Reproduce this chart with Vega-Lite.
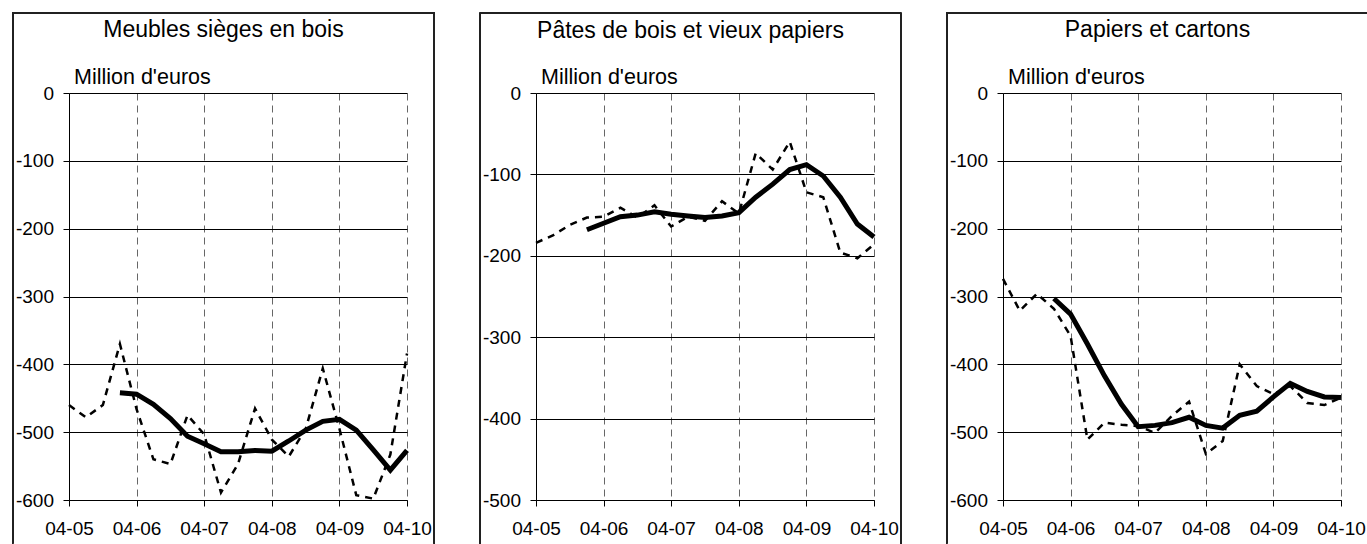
{
  "$schema": "https://vega.github.io/schema/vega-lite/v6.json",
  "background": "white",
  "padding": {"left": 12, "top": 12, "right": 0, "bottom": 0},
  "spacing": 44,
  "config": {
    "font": "Liberation Sans",
    "locale": {"number": {"decimal": ".", "thousands": ",", "grouping": [3], "currency": ["$", ""], "minus": "-"}},
    "view": {"stroke": null},
    "axis": {"labelFont": "Liberation Sans", "labelColor": "black", "labelFontSize": 19, "domainColor": "black", "tickColor": "black", "tickSize": 6, "titleFont": "Liberation Sans", "titleFontWeight": "normal", "titleColor": "black"},
    "axisX": {"labelExpr": "utcFormat(datum.value, '%m-%y')", "labelPadding": 13, "labelFlush": false, "labelOverlap": false, "grid": true, "gridDash": [7, 5], "gridColor": "#666", "title": null},
    "title": {"font": "Liberation Sans", "fontWeight": "normal", "fontSize": 23, "color": "black", "anchor": "middle", "frame": "bounds", "offset": -30, "baseline": "alphabetic"}
  },
  "datasets": {
    "meubles": [
      {"date": "2005-04-01", "brut": -460},
      {"date": "2005-07-01", "brut": -478},
      {"date": "2005-10-01", "brut": -460},
      {"date": "2006-01-01", "brut": -370, "moyenne": -442},
      {"date": "2006-04-01", "brut": -466, "moyenne": -444},
      {"date": "2006-07-01", "brut": -540, "moyenne": -459},
      {"date": "2006-10-01", "brut": -547, "moyenne": -480},
      {"date": "2007-01-01", "brut": -475, "moyenne": -506},
      {"date": "2007-04-01", "brut": -503, "moyenne": -517},
      {"date": "2007-07-01", "brut": -589, "moyenne": -529},
      {"date": "2007-10-01", "brut": -547, "moyenne": -529},
      {"date": "2008-01-01", "brut": -465, "moyenne": -527},
      {"date": "2008-04-01", "brut": -511, "moyenne": -528},
      {"date": "2008-07-01", "brut": -536, "moyenne": -513},
      {"date": "2008-10-01", "brut": -495, "moyenne": -497},
      {"date": "2009-01-01", "brut": -406, "moyenne": -484},
      {"date": "2009-04-01", "brut": -495, "moyenne": -481},
      {"date": "2009-07-01", "brut": -593, "moyenne": -497},
      {"date": "2009-10-01", "brut": -598, "moyenne": -526},
      {"date": "2010-01-01", "brut": -533, "moyenne": -556},
      {"date": "2010-04-01", "brut": -384, "moyenne": -527}
    ],
    "pates": [
      {"date": "2005-04-01", "brut": -184},
      {"date": "2005-07-01", "brut": -175},
      {"date": "2005-10-01", "brut": -162},
      {"date": "2006-01-01", "brut": -153, "moyenne": -168},
      {"date": "2006-04-01", "brut": -152, "moyenne": -160},
      {"date": "2006-07-01", "brut": -141, "moyenne": -152},
      {"date": "2006-10-01", "brut": -153, "moyenne": -150},
      {"date": "2007-01-01", "brut": -138, "moyenne": -146},
      {"date": "2007-04-01", "brut": -164, "moyenne": -149},
      {"date": "2007-07-01", "brut": -152, "moyenne": -151},
      {"date": "2007-10-01", "brut": -157, "moyenne": -153},
      {"date": "2008-01-01", "brut": -133, "moyenne": -151},
      {"date": "2008-04-01", "brut": -148, "moyenne": -147},
      {"date": "2008-07-01", "brut": -74, "moyenne": -128},
      {"date": "2008-10-01", "brut": -94, "moyenne": -112},
      {"date": "2009-01-01", "brut": -60, "moyenne": -94},
      {"date": "2009-04-01", "brut": -122, "moyenne": -88},
      {"date": "2009-07-01", "brut": -128, "moyenne": -102},
      {"date": "2009-10-01", "brut": -196, "moyenne": -128},
      {"date": "2010-01-01", "brut": -203, "moyenne": -161},
      {"date": "2010-04-01", "brut": -186, "moyenne": -177}
    ],
    "papiers": [
      {"date": "2005-04-01", "brut": -274},
      {"date": "2005-07-01", "brut": -321},
      {"date": "2005-10-01", "brut": -296},
      {"date": "2006-01-01", "brut": -318, "moyenne": -303},
      {"date": "2006-04-01", "brut": -358, "moyenne": -326},
      {"date": "2006-07-01", "brut": -511, "moyenne": -370},
      {"date": "2006-10-01", "brut": -486, "moyenne": -417},
      {"date": "2007-01-01", "brut": -489, "moyenne": -459},
      {"date": "2007-04-01", "brut": -491, "moyenne": -492},
      {"date": "2007-07-01", "brut": -501, "moyenne": -490},
      {"date": "2007-10-01", "brut": -476, "moyenne": -486},
      {"date": "2008-01-01", "brut": -455, "moyenne": -478},
      {"date": "2008-04-01", "brut": -532, "moyenne": -490},
      {"date": "2008-07-01", "brut": -513, "moyenne": -494},
      {"date": "2008-10-01", "brut": -400, "moyenne": -475},
      {"date": "2009-01-01", "brut": -432, "moyenne": -469},
      {"date": "2009-04-01", "brut": -444, "moyenne": -448},
      {"date": "2009-07-01", "brut": -432, "moyenne": -428},
      {"date": "2009-10-01", "brut": -457, "moyenne": -440},
      {"date": "2010-01-01", "brut": -460, "moyenne": -448},
      {"date": "2010-04-01", "brut": -449, "moyenne": -449}
    ]
  },
  "hconcat": [
    {
      "width": 338, "height": 407,
      "title": {"text": "Meubles sièges en bois"},
      "data": {"name": "meubles"},
      "layer": [
        {"mark": {"type": "rule", "color": "#222", "strokeWidth": 1},
         "encoding": {"x": {"datum": {"year": 2004, "month": 6, "date": 1, "utc": true}, "type": "temporal"}, "y": {"datum": 118}, "y2": {"datum": -664}}},
        {"mark": {"type": "rule", "color": "#222", "strokeWidth": 1},
         "encoding": {"x": {"datum": {"year": 2010, "month": 8, "date": 26, "utc": true}, "type": "temporal"}, "y": {"datum": 118}, "y2": {"datum": -664}}},
        {"mark": {"type": "rule", "color": "#222", "strokeWidth": 1},
         "encoding": {"x": {"datum": {"year": 2004, "month": 6, "date": 1, "utc": true}, "type": "temporal"}, "x2": {"datum": {"year": 2010, "month": 8, "date": 26, "utc": true}}, "y": {"datum": 118}}},
        {"mark": {"type": "line", "color": "black", "strokeWidth": 2.5, "strokeDash": [7, 6]},
         "encoding": {
           "x": {"field": "date", "type": "temporal",
                 "scale": {"type": "utc", "domain": [{"year": 2005, "month": 4, "date": 1, "utc": true}, {"year": 2010, "month": 4, "date": 1, "utc": true}], "nice": false},
                 "axis": {"title": null, "values": [{"year": 2005, "month": 4, "date": 1, "utc": true}, {"year": 2006, "month": 4, "date": 1, "utc": true}, {"year": 2007, "month": 4, "date": 1, "utc": true}, {"year": 2008, "month": 4, "date": 1, "utc": true}, {"year": 2009, "month": 4, "date": 1, "utc": true}, {"year": 2010, "month": 4, "date": 1, "utc": true}],
                          "labelExpr": "utcFormat(datum.value, '%m-%y')", "grid": true, "gridDash": [7, 5], "gridColor": "#666", "labelPadding": 13, "labelFlush": false, "labelOverlap": false}},
           "y": {"field": "brut", "type": "quantitative",
                 "scale": {"domain": [-600, 0], "nice": false, "zero": false},
                 "axis": {"values": [0, -100, -200, -300, -400, -500, -600], "format": "d", "title": "Million d'euros", "titleAngle": 0, "titleAlign": "left", "titleBaseline": "alphabetic", "titleX": 4.5, "titleY": -10, "titleFontSize": 21.5, "grid": true, "gridColor": "black", "gridWidth": 1, "labelPadding": 9.5}}
         }},
        {"transform": [{"filter": "isValid(datum.moyenne)"}],
         "mark": {"type": "line", "color": "black", "strokeWidth": 5},
         "encoding": {"x": {"field": "date", "type": "temporal"}, "y": {"field": "moyenne", "type": "quantitative"}}}
      ]
    },
    {
      "width": 338, "height": 407,
      "title": {"text": "Pâtes de bois et vieux papiers"},
      "data": {"name": "pates"},
      "layer": [
        {"mark": {"type": "rule", "color": "#222", "strokeWidth": 1},
         "encoding": {"x": {"datum": {"year": 2004, "month": 6, "date": 1, "utc": true}, "type": "temporal"}, "y": {"datum": 98}, "y2": {"datum": -554}}},
        {"mark": {"type": "rule", "color": "#222", "strokeWidth": 1},
         "encoding": {"x": {"datum": {"year": 2010, "month": 8, "date": 26, "utc": true}, "type": "temporal"}, "y": {"datum": 98}, "y2": {"datum": -554}}},
        {"mark": {"type": "rule", "color": "#222", "strokeWidth": 1},
         "encoding": {"x": {"datum": {"year": 2004, "month": 6, "date": 1, "utc": true}, "type": "temporal"}, "x2": {"datum": {"year": 2010, "month": 8, "date": 26, "utc": true}}, "y": {"datum": 98}}},
        {"mark": {"type": "line", "color": "black", "strokeWidth": 2.5, "strokeDash": [7, 6]},
         "encoding": {
           "x": {"field": "date", "type": "temporal",
                 "scale": {"type": "utc", "domain": [{"year": 2005, "month": 4, "date": 1, "utc": true}, {"year": 2010, "month": 4, "date": 1, "utc": true}], "nice": false},
                 "axis": {"title": null, "values": [{"year": 2005, "month": 4, "date": 1, "utc": true}, {"year": 2006, "month": 4, "date": 1, "utc": true}, {"year": 2007, "month": 4, "date": 1, "utc": true}, {"year": 2008, "month": 4, "date": 1, "utc": true}, {"year": 2009, "month": 4, "date": 1, "utc": true}, {"year": 2010, "month": 4, "date": 1, "utc": true}],
                          "labelExpr": "utcFormat(datum.value, '%m-%y')", "grid": true, "gridDash": [7, 5], "gridColor": "#666", "labelPadding": 13, "labelFlush": false, "labelOverlap": false}},
           "y": {"field": "brut", "type": "quantitative",
                 "scale": {"domain": [-500, 0], "nice": false, "zero": false},
                 "axis": {"values": [0, -100, -200, -300, -400, -500], "format": "d", "title": "Million d'euros", "titleAngle": 0, "titleAlign": "left", "titleBaseline": "alphabetic", "titleX": 4.5, "titleY": -10, "titleFontSize": 21.5, "grid": true, "gridColor": "black", "gridWidth": 1, "labelPadding": 9.5}}
         }},
        {"transform": [{"filter": "isValid(datum.moyenne)"}],
         "mark": {"type": "line", "color": "black", "strokeWidth": 5},
         "encoding": {"x": {"field": "date", "type": "temporal"}, "y": {"field": "moyenne", "type": "quantitative"}}}
      ]
    },
    {
      "width": 338, "height": 407,
      "title": {"text": "Papiers et cartons"},
      "data": {"name": "papiers"},
      "layer": [
        {"mark": {"type": "rule", "color": "#222", "strokeWidth": 1},
         "encoding": {"x": {"datum": {"year": 2004, "month": 6, "date": 1, "utc": true}, "type": "temporal"}, "y": {"datum": 118}, "y2": {"datum": -664}}},
        {"mark": {"type": "rule", "color": "#222", "strokeWidth": 1},
         "encoding": {"x": {"datum": {"year": 2010, "month": 8, "date": 26, "utc": true}, "type": "temporal"}, "y": {"datum": 118}, "y2": {"datum": -664}}},
        {"mark": {"type": "rule", "color": "#222", "strokeWidth": 1},
         "encoding": {"x": {"datum": {"year": 2004, "month": 6, "date": 1, "utc": true}, "type": "temporal"}, "x2": {"datum": {"year": 2010, "month": 8, "date": 26, "utc": true}}, "y": {"datum": 118}}},
        {"mark": {"type": "line", "color": "black", "strokeWidth": 2.5, "strokeDash": [7, 6]},
         "encoding": {
           "x": {"field": "date", "type": "temporal",
                 "scale": {"type": "utc", "domain": [{"year": 2005, "month": 4, "date": 1, "utc": true}, {"year": 2010, "month": 4, "date": 1, "utc": true}], "nice": false},
                 "axis": {"title": null, "values": [{"year": 2005, "month": 4, "date": 1, "utc": true}, {"year": 2006, "month": 4, "date": 1, "utc": true}, {"year": 2007, "month": 4, "date": 1, "utc": true}, {"year": 2008, "month": 4, "date": 1, "utc": true}, {"year": 2009, "month": 4, "date": 1, "utc": true}, {"year": 2010, "month": 4, "date": 1, "utc": true}],
                          "labelExpr": "utcFormat(datum.value, '%m-%y')", "grid": true, "gridDash": [7, 5], "gridColor": "#666", "labelPadding": 13, "labelFlush": false, "labelOverlap": false}},
           "y": {"field": "brut", "type": "quantitative",
                 "scale": {"domain": [-600, 0], "nice": false, "zero": false},
                 "axis": {"values": [0, -100, -200, -300, -400, -500, -600], "format": "d", "title": "Million d'euros", "titleAngle": 0, "titleAlign": "left", "titleBaseline": "alphabetic", "titleX": 4.5, "titleY": -10, "titleFontSize": 21.5, "grid": true, "gridColor": "black", "gridWidth": 1, "labelPadding": 9.5}}
         }},
        {"transform": [{"filter": "isValid(datum.moyenne)"}],
         "mark": {"type": "line", "color": "black", "strokeWidth": 5},
         "encoding": {"x": {"field": "date", "type": "temporal"}, "y": {"field": "moyenne", "type": "quantitative"}}}
      ]
    }
  ]
}
